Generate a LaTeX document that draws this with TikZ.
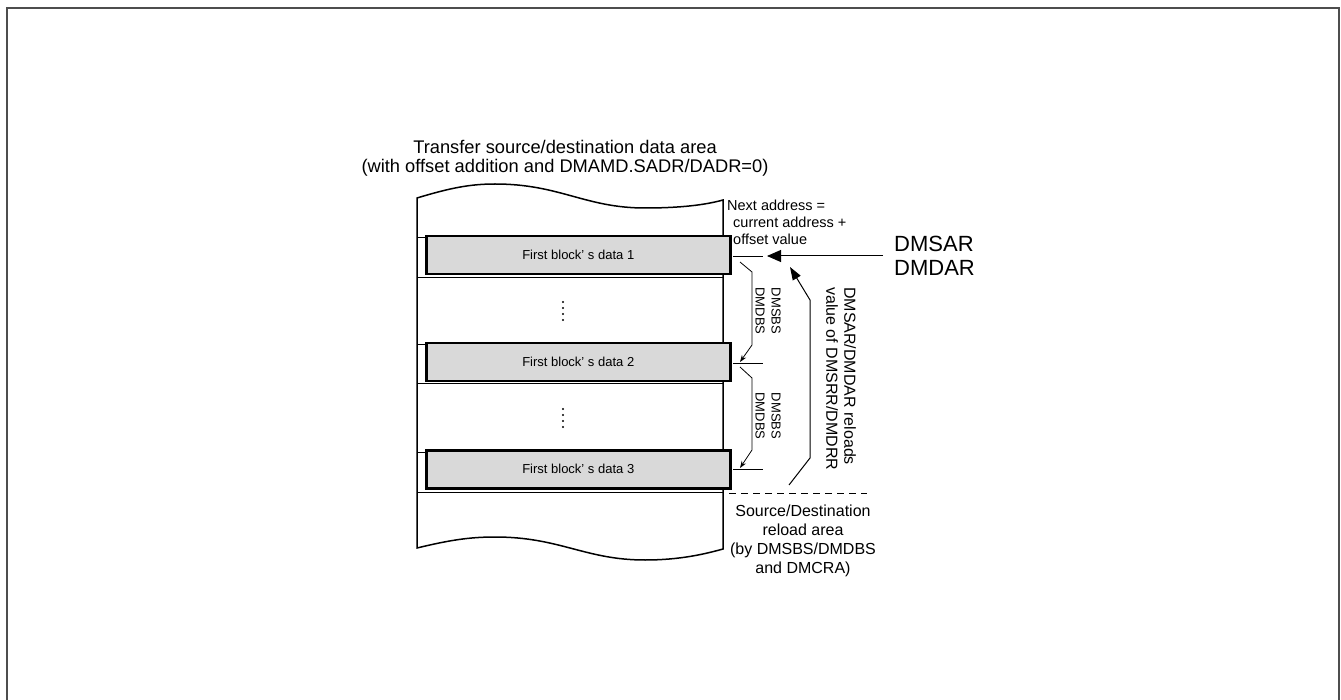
\documentclass[tikz,border=0pt]{standalone}
\usepackage{fontspec}
\setmainfont{Liberation Sans}
\usetikzlibrary{arrows.meta, calc}

\definecolor{framegray}{HTML}{4D4D4D}
\definecolor{blockgray}{HTML}{D9D9D9}

\tikzset{
  blockbox/.style={draw, line width=2.5pt, fill=blockgray, anchor=north west,
    minimum width=304pt, minimum height=38pt, inner sep=0pt,
    font=\fontsize{13}{16}\selectfont},
  rowline/.style={line width=0.8pt},
  tickline/.style={line width=0.8pt},
  bracearrow/.style={line width=0.8pt, -{Stealth[length=7pt, width=5pt]}},
  bigarrow/.style={line width=1pt, -{Triangle[length=14pt, width=12pt]}},
}

\begin{document}
\begin{tikzpicture}[x=1pt, y=-1pt]
  \useasboundingbox (0,0) rectangle (1341,700);
  \draw[framegray, line width=2pt] (7,700) -- (7,8) -- (1339,8) -- (1339,700);

  % title
  \node[align=center, anchor=base, font=\fontsize{18.3}{19}\selectfont] (title) at (565,173)
    {Transfer source/destination data area\\(with offset addition and DMAMD.SADR/DADR=0)};

  % memory column with torn edges
  \draw[line width=1.5pt, fill=white] (417,548) -- (417,198)
    .. controls (450,188) and (470,184) .. (495,184)
    .. controls (560,184) and (585,208) .. (645,208)
    .. controls (680,208) and (705,205) .. (723,200)
    -- (723,549)
    .. controls (705,554) and (680,560) .. (645,560)
    .. controls (585,560) and (560,537) .. (495,537)
    .. controls (470,537) and (450,540) .. (417,548) -- cycle;

  \foreach \y in {237,277,344,383,452,492}
    \draw[rowline] (417,\y) -- (723,\y);

  \node[blockbox] (blk1) at (425,235) {First block’ s data 1};
  \node[blockbox] (blk2) at (425,342) {First block’ s data 2};
  \node[blockbox] (blk3) at (425,449) {First block’ s data 3};

  \foreach \y in {302,308,314,320,409,415,421,427}
    \fill (563,\y) circle (1.1pt);

  % right side marks
  \coordinate (tk1) at (733,256);
  \coordinate (tk2) at (733,363);
  \coordinate (tk3) at (733,469);
  \foreach \t in {tk1,tk2,tk3}
    \draw[tickline] (\t) -- ++(30,0);

  \node[anchor=base west, align=left, inner sep=0pt, font=\fontsize{14.5}{17}\selectfont] (next) at (727,245)
    {Next address =\\\hspace*{6pt}current address +\\\hspace*{6pt}offset value};

  \node[anchor=west, align=left, inner sep=0pt, font=\fontsize{22}{24}\selectfont] (dmsar) at (894,256)
    {DMSAR\\DMDAR};
  \coordinate (tip1) at (767,256);
  \draw[bigarrow] ([xshift=-11pt]dmsar.west) -- (tip1);

  \draw[bracearrow] ($(tk1)+(7,6)$) -- ($(tk1)+(19,16)$) -- ($(tk2)+(19,-18)$) -- ($(tk2)+(7,-1)$);
  \draw[bracearrow] ($(tk2)+(7,4)$) -- ($(tk2)+(19,15)$) -- ($(tk3)+(19,-19)$) -- ($(tk3)+(7,-1)$);
  \node[rotate=-90, align=center, inner sep=0pt, font=\fontsize{13}{16}\selectfont] (bs1) at (768,311) {DMSBS\\DMDBS};
  \node[rotate=-90, align=center, inner sep=0pt, font=\fontsize{13}{16}\selectfont] (bs2) at (768,416) {DMSBS\\DMDBS};

  % reload path
  \coordinate (rl0) at (789,485);
  \coordinate (rl1) at (810,458);
  \coordinate (rl2) at (810,300);
  \coordinate (rl3) at (790,267);
  \draw[line width=1pt, -{Triangle[length=13pt, width=9pt]}] (rl0) -- (rl1) -- (rl2) -- (rl3);
  \node[rotate=-90, anchor=west, align=left, inner sep=0pt, font=\fontsize{16}{18}\selectfont] (reload) at (841,287)
    {DMSAR/DMDAR reloads\\value of DMSRR/DMDRR};

  \draw[line width=0.8pt, dash pattern=on 7pt off 5pt] (729,493) -- (867,493);
  \node[anchor=base, align=center, font=\fontsize{16}{19}\selectfont] (area) at (803,573)
    {Source/Destination\\reload area\\(by DMSBS/DMDBS\\and DMCRA)};
\end{tikzpicture}
\end{document}
